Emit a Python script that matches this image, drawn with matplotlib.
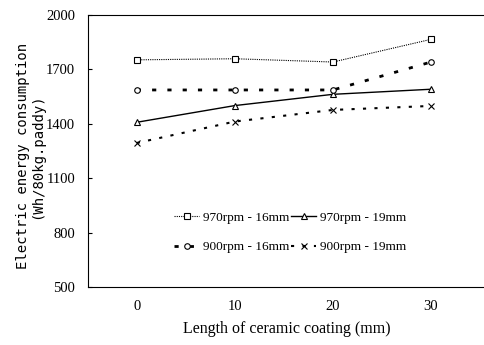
import matplotlib
matplotlib.use('Agg')
import matplotlib.pyplot as plt

# Dados
coating_length = [0, 10, 20, 30]
rpm970_16 = [1752, 1758, 1740, 1865]
rpm970_19 = [1408, 1500, 1562, 1590]
rpm900_16 = [1586, 1586, 1586, 1740]
rpm900_19 = [1294, 1412, 1476, 1498]

y_ticks = [500, 800, 1100, 1400, 1700, 2000]
x_ticks = [0, 10, 20, 30]

plt.rcParams['font.family'] = ['Liberation Serif', 'DejaVu Serif']

fig = plt.figure(figsize=(4.85, 3.45), dpi=100)
ax = fig.add_axes([0.181, 0.168, 0.819, 0.789])

l1, = ax.plot(coating_length, rpm970_16, color='black', linestyle=(0, (1, 1)), linewidth=0.8,
              marker='s', markersize=4, markerfacecolor='white', markeredgewidth=0.8,
              label='970rpm - 16mm')
l2, = ax.plot(coating_length, rpm970_19, color='black', linestyle='-', linewidth=1.0,
              marker='^', markersize=4, markerfacecolor='white', markeredgewidth=0.8,
              label='970rpm - 19mm')
l3, = ax.plot(coating_length, rpm900_16, color='black', linestyle=(0, (1.5, 4)), linewidth=2.0,
              marker='o', markersize=4, markerfacecolor='white', markeredgewidth=0.8,
              label='900rpm - 16mm')
l4, = ax.plot(coating_length, rpm900_19, color='black', linestyle=(0, (1.5, 4)), linewidth=1.5,
              marker='x', markersize=4, markeredgewidth=0.8,
              label='900rpm - 19mm')

ax.set_xlim(-5, 35.5)
ax.set_ylim(500, 2000)
ax.set_xticks(x_ticks)
ax.set_yticks(y_ticks)
ax.tick_params(axis='x', length=0, pad=9, labelsize=10.5)
ax.tick_params(axis='y', direction='in', length=3, pad=9, labelsize=10.5)
ax.spines['right'].set_visible(False)

ax.set_xlabel('Length of ceramic coating (mm)', fontsize=11.5, labelpad=6)
ax.set_ylabel('Electric energy consumption\n(Wh/80kg.paddy)', fontsize=10,
              family='DejaVu Sans Mono', linespacing=0.95)
ax.yaxis.set_label_coords(-0.111, 0.48)

# ordem da legenda: linha 1 = 970rpm, linha 2 = 900rpm
ax.legend([l1, l3, l2, l4], [l1.get_label(), l3.get_label(), l2.get_label(), l4.get_label()],
          loc='center', bbox_to_anchor=(0.51, 0.20), ncol=2, frameon=False,
          fontsize=9.5, handlelength=1.9, handletextpad=0.3, columnspacing=0.1,
          labelspacing=1.3)

plt.savefig('out.png', dpi=100)
